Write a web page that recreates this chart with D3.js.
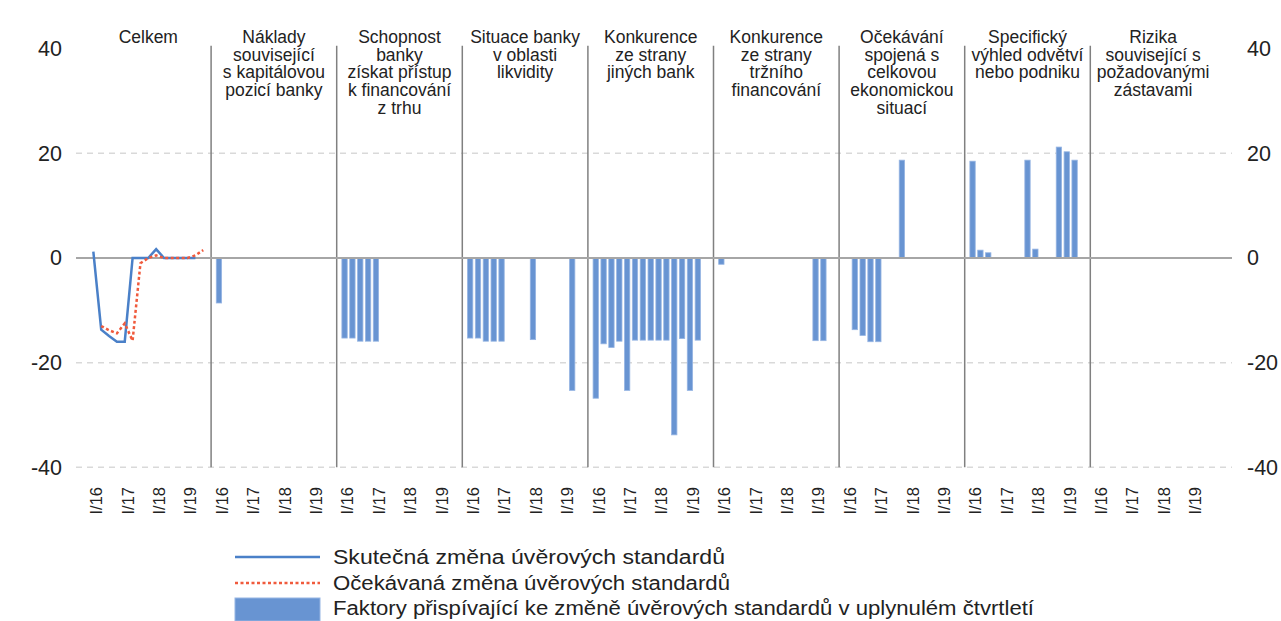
<!DOCTYPE html>
<html>
<head>
<meta charset="utf-8">
<script src="https://cdn.jsdelivr.net/npm/d3@7"></script>
<style>
  body { margin: 0; background: #fff; }
  svg { font-family: "Liberation Sans", Arial, sans-serif; }
</style>
</head>
<body>
<div id="chart"></div>
<script>
// panel titles (one list of lines per panel)
const panelTitles = [
  ["Celkem"],
  ["Náklady", "související", "s kapitálovou", "pozicí banky"],
  ["Schopnost", "banky", "získat přístup", "k financování", "z trhu"],
  ["Situace banky", "v oblasti", "likvidity"],
  ["Konkurence", "ze strany", "jiných bank"],
  ["Konkurence", "ze strany", "tržního", "financování"],
  ["Očekávání", "spojená s", "celkovou", "ekonomickou", "situací"],
  ["Specifický", "výhled odvětví", "nebo podniku"],
  ["Rizika", "související s", "požadovanými", "zástavami"]
];

const quarters = [
  "I/16", "II/16", "III/16", "IV/16",
  "I/17", "II/17", "III/17", "IV/17",
  "I/18", "II/18", "III/18", "IV/18",
  "I/19", "II/19", "III/19"
];
const tickLabels = ["I/16", "I/17", "I/18", "I/19"];
const yTicks = [-40, -20, 0, 20, 40];

// Celkem panel lines
const actualChange = [1.2, -13.7, -14.9, -16, -16, 0, 0, 0, 1.7, 0, 0, 0, 0, 0, null];
const expectedChange = [null, -13, -13.8, -14.4, -12.5, -15.8, -1, 0, 0.5, 0, 0, 0, 0, 0.5, 1.5];

// factors, one value per quarter (null = no bar)
const factorTotal = [null, null, null, null, null, null, null, null, null, null, null, null, null, null, null];
const factorCapital = [-8.6, null, null, null, null, null, null, null, null, null, null, null, null, null, null];
const factorMarketAccess = [-15.3, -15.3, -15.9, -15.9, -15.9, null, null, null, null, null, null, null, null, null, null];
const factorLiquidity = [-15.3, -15.3, -15.9, -15.9, -15.9, null, null, null, -15.6, null, null, null, null, -25.3, null];
const factorBankCompetition = [-26.8, -16.4, -17.1, -15.9, -25.3, -15.7, -15.7, -15.7, -15.7, -15.7, -33.8, -15.4, -25.3, -15.7, null];
const factorMarketCompetition = [-1.2, null, null, null, null, null, null, null, null, null, null, null, -15.8, -15.8, null];
const factorEconomy = [null, -13.7, -14.8, -16, -16, null, null, 18.7, null, null, null, null, null, null, null];
const factorIndustry = [18.5, 1.5, 1.0, null, null, null, null, 18.7, 1.7, null, null, 21.2, 20.3, 18.7, null];
const factorCollateral = [null, null, null, null, null, null, null, null, null, null, null, null, null, null, null];

const factorSeries = [
  factorTotal, factorCapital, factorMarketAccess, factorLiquidity,
  factorBankCompetition, factorMarketCompetition, factorEconomy,
  factorIndustry, factorCollateral
];

const legendText = [
  "Skutečná změna úvěrových standardů",
  "Očekávaná změna úvěrových standardů",
  "Faktory přispívající ke změně úvěrových standardů v uplynulém čtvrtletí"
];

const width = 1281;
const height = 621;
const plotLeft = 76;
const plotRight = 1232;
const panelStart = 85.5;
const panelWidth = 125.6;

const svg = d3.select("#chart")
  .append("svg")
  .attr("width", width)
  .attr("height", height);

// scales
const x0 = d3.scaleBand()
  .domain(d3.range(panelTitles.length))
  .range([panelStart, panelStart + panelWidth * panelTitles.length]);

const step = x0.bandwidth() / 16;
// first slot of every panel is the separator
const xq = d3.scalePoint()
  .domain(["", ...quarters])
  .range([0, 15 * step]);

const y = d3.scaleLinear().domain([-40, 40]).range([467.3, 48.7]);

// grid (no line drawn at the top value)
svg.append("g")
  .selectAll("line")
  .data(yTicks.filter(d => d !== 0 && d !== 40))
  .enter()
  .append("line")
  .attr("x1", plotLeft)
  .attr("x2", plotRight)
  .attr("y1", d => y(d))
  .attr("y2", d => y(d))
  .attr("stroke", "#d9d9d9")
  .attr("stroke-width", 1.5)
  .attr("stroke-dasharray", "6,5");

// panel dividers
svg.append("g")
  .selectAll("line")
  .data(d3.range(1, panelTitles.length))
  .enter()
  .append("line")
  .attr("x1", d => x0(d))
  .attr("x2", d => x0(d))
  .attr("y1", y(40) - 3)
  .attr("y2", y(-40))
  .attr("stroke", "#808080")
  .attr("stroke-width", 1.5);

// bars
const barW = step * 0.68;
const bars = [];
factorSeries.forEach((vals, p) => {
  vals.forEach((v, i) => {
    if (v !== null) bars.push({ p, q: quarters[i], v });
  });
});

svg.append("g")
  .selectAll("rect")
  .data(bars)
  .enter()
  .append("rect")
  .attr("x", d => x0(d.p) + xq(d.q) - barW / 2)
  .attr("width", barW)
  .attr("y", d => y(Math.max(0, d.v)))
  .attr("height", d => Math.abs(y(d.v) - y(0)))
  .attr("fill", "#6894d2")
  .attr("stroke", "#96b5e3")
  .attr("stroke-width", 0.8);

// zero line
svg.append("line")
  .attr("x1", plotLeft)
  .attr("x2", plotRight)
  .attr("y1", y(0))
  .attr("y2", y(0))
  .attr("stroke", "#a6a6a6")
  .attr("stroke-width", 2);

// lines in the Celkem panel
const line = d3.line()
  .defined(d => d.v !== null)
  .x(d => x0(0) + xq(d.q))
  .y(d => y(d.v));

svg.append("path")
  .datum(actualChange.map((v, i) => ({ q: quarters[i], v })))
  .attr("d", line)
  .attr("fill", "none")
  .attr("stroke", "#4a80c8")
  .attr("stroke-width", 2.5);

svg.append("path")
  .datum(expectedChange.map((v, i) => ({ q: quarters[i], v })))
  .attr("d", line)
  .attr("fill", "none")
  .attr("stroke", "#f05a3c")
  .attr("stroke-width", 2.5)
  .attr("stroke-dasharray", "3,2.5");

// y axes both sides (plain hyphen minus)
const fmt = d => String(d);
const leftAxis = svg.append("g")
  .attr("transform", "translate(65,0)")
  .call(d3.axisLeft(y).tickValues(yTicks).tickFormat(fmt).tickSize(0).tickPadding(3));
const rightAxis = svg.append("g")
  .attr("transform", "translate(1244,0)")
  .call(d3.axisRight(y).tickValues(yTicks).tickFormat(fmt).tickSize(0).tickPadding(3));
[leftAxis, rightAxis].forEach(a => {
  a.select(".domain").remove();
  a.selectAll("text")
    .attr("font-size", 21.5)
    .attr("font-family", "Liberation Sans, Arial, sans-serif")
    .attr("fill", "#222");
});

// quarter tick labels per panel
const tickData = [];
panelTitles.forEach((t, p) => {
  tickLabels.forEach(l => tickData.push({ p, l }));
});
svg.append("g")
  .selectAll("text")
  .data(tickData)
  .enter()
  .append("text")
  .attr("transform", d => `translate(${x0(d.p) + xq(d.l) + 3},487) rotate(-90)`)
  .attr("text-anchor", "end")
  .attr("dy", "0.35em")
  .attr("font-size", 16.5)
  .attr("fill", "#222")
  .text(d => d.l);

// panel titles
const titles = svg.append("g")
  .selectAll("text")
  .data(panelTitles)
  .enter()
  .append("text")
  .attr("x", (d, i) => x0(i) + x0.bandwidth() / 2)
  .attr("y", 43)
  .attr("text-anchor", "middle")
  .attr("font-size", 17.5)
  .attr("fill", "#222");

titles.selectAll("tspan")
  .data(d => d)
  .enter()
  .append("tspan")
  .attr("x", function () { return d3.select(this.parentNode).attr("x"); })
  .attr("dy", (d, i) => (i === 0 ? 0 : 17.7))
  .text(d => d);

// legend
const legend = svg.append("g");
legend.append("line")
  .attr("x1", 235).attr("x2", 320)
  .attr("y1", 557).attr("y2", 557)
  .attr("stroke", "#4a80c8").attr("stroke-width", 2.5);
legend.append("line")
  .attr("x1", 235).attr("x2", 320)
  .attr("y1", 583).attr("y2", 583)
  .attr("stroke", "#f05a3c").attr("stroke-width", 2.5)
  .attr("stroke-dasharray", "3,2.5");
legend.append("rect")
  .attr("x", 235).attr("y", 598)
  .attr("width", 85).attr("height", 23)
  .attr("fill", "#6894d2")
  .attr("stroke", "#96b5e3");

// the legend text in the reference is a bit wider than the font
legend.selectAll("text")
  .data(legendText)
  .enter()
  .append("text")
  .attr("x", 333)
  .attr("y", (d, i) => [564, 590, 615][i])
  .attr("font-size", 19.5)
  .attr("fill", "#222")
  .attr("textLength", (d, i) => [392, 397, 701][i])
  .attr("lengthAdjust", "spacingAndGlyphs")
  .text(d => d);
</script>
</body>
</html>
